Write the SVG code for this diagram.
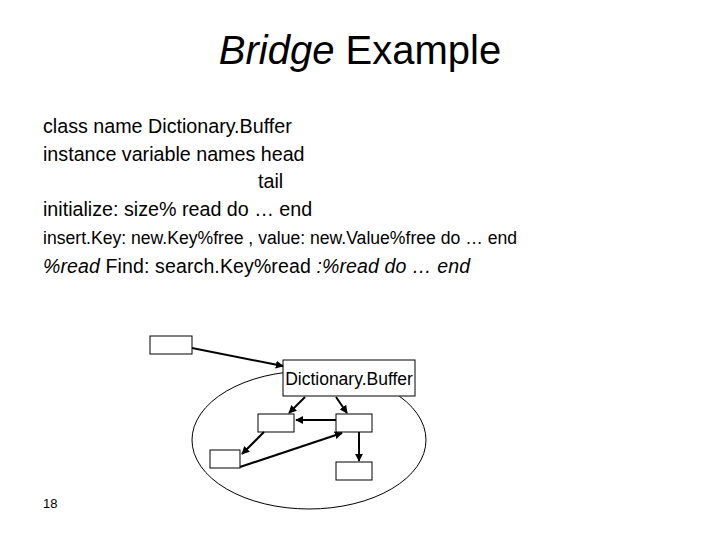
<svg xmlns="http://www.w3.org/2000/svg" width="720" height="540" viewBox="0 0 720 540">
<style>
.t{font-family:"Liberation Sans",Arial,sans-serif;fill:#000}
.b{fill:#fff;stroke:#000;stroke-width:1}
.c line{stroke:#000;stroke-width:2;marker-end:url(#a)}
</style>
<defs><marker id="a" viewBox="0 0 10 10" refX="9" refY="5" markerWidth="4" markerHeight="4" orient="auto"><path d="M0,0L10,5L0,10z" fill="#000"/></marker></defs>
<rect width="720" height="540" fill="#fff"/>
<text class="t" x="360" y="64" font-size="40" text-anchor="middle"><tspan font-style="italic">Bridge</tspan> Example</text>
<text class="t" x="43" y="133" font-size="19.7">class name Dictionary.Buffer</text>
<text class="t" x="43" y="161" font-size="19.7">instance variable names head</text>
<text class="t" x="258" y="188" font-size="19.7">tail</text>
<text class="t" x="43" y="216" font-size="19.7">initialize: size% read do … end</text>
<text class="t" x="43" y="244" font-size="17.6">insert.Key: new.Key%free , value: new.Value%free do … end</text>
<text class="t" x="43" y="273" font-size="19.5" textLength="427"><tspan font-style="italic">%read</tspan> Find: search.Key%read <tspan font-style="italic">:%read do … end</tspan></text>
<ellipse cx="309" cy="440" rx="117" ry="69" fill="none" stroke="#000" stroke-width="1"/>
<g id="n0"><rect class="b" x="150" y="336" width="42" height="18"/></g>
<g id="db"><rect class="b" x="283" y="360" width="132" height="36"/><text class="t" x="349" y="385" font-size="17.5" text-anchor="middle">Dictionary.Buffer</text></g>
<g id="nA"><rect class="b" x="258" y="414" width="36" height="18"/></g>
<g id="nB"><rect class="b" x="336" y="414" width="36" height="18"/></g>
<g id="nC"><rect class="b" x="210" y="450" width="30" height="18"/></g>
<g id="nD"><rect class="b" x="336" y="462" width="36" height="18"/></g>
<g class="c">
<line x1="192" y1="348" x2="283" y2="366"/>
<line x1="305" y1="397" x2="289" y2="413"/>
<line x1="336" y1="397" x2="347" y2="413"/>
<line x1="336" y1="420" x2="296" y2="420"/>
<line x1="264" y1="432" x2="242" y2="454"/>
<line x1="240" y1="467" x2="342" y2="433"/>
<line x1="359" y1="432" x2="359" y2="461"/>
</g>
<text class="t" x="43" y="508" font-size="13">18</text>
</svg>
